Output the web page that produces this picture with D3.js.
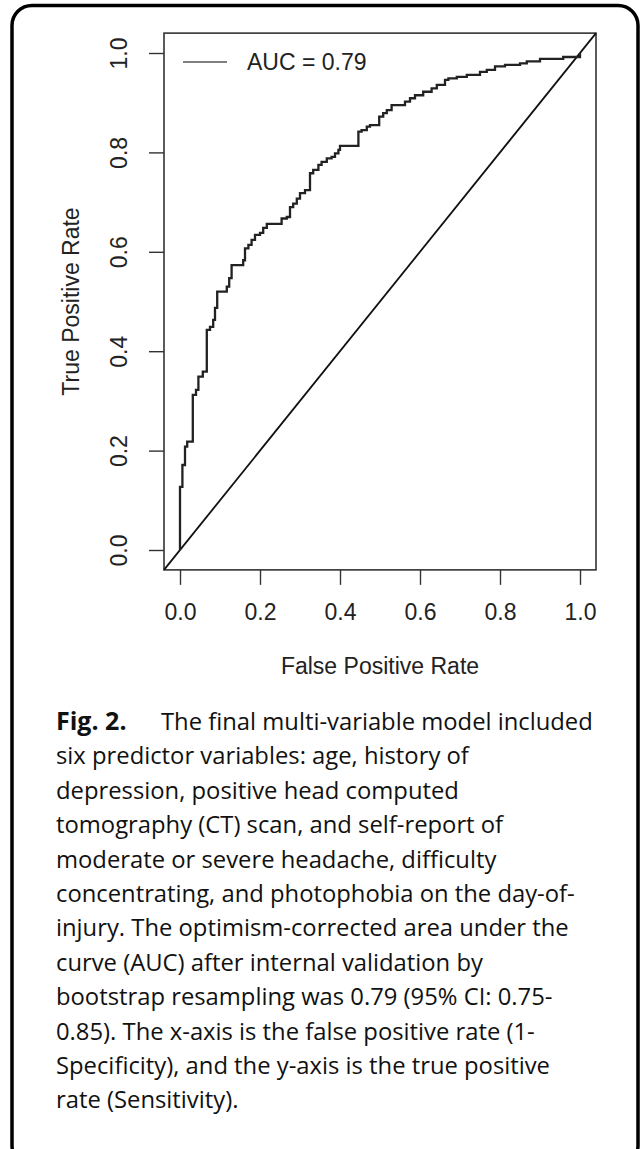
<!DOCTYPE html>
<html>
<head>
<meta charset="utf-8">
<script src="https://cdn.jsdelivr.net/npm/d3@7"></script>
<style>
  html, body { margin: 0; padding: 0; background: #fff; }
  svg { display: block; }
</style>
</head>
<body>
<svg class="js-render-chart" width="643" height="1149"></svg>
<script>
"use strict";

//data

const fpr = [0, 0, 0.006, 0.0125, 0.018, 0.032, 0.04, 0.046, 0.057, 0.067, 0.075, 0.083, 0.0875, 0.093,
  0.117, 0.123, 0.129, 0.158, 0.1625, 0.171, 0.179, 0.1875, 0.2, 0.208, 0.217, 0.254, 0.267, 0.275,
  0.283, 0.292, 0.3, 0.3125, 0.325, 0.333, 0.346, 0.354, 0.367, 0.379, 0.3875, 0.396, 0.4, 0.446,
  0.454, 0.467, 0.475, 0.498, 0.508, 0.517, 0.529, 0.5625, 0.575, 0.5875, 0.608, 0.629, 0.642,
  0.6625, 0.671, 0.692, 0.717, 0.75, 0.767, 0.7875, 0.8125, 0.85, 0.867, 0.9, 0.958, 1];

const tpr = [0, 0.127, 0.171, 0.208, 0.218, 0.312, 0.322, 0.349, 0.359, 0.443, 0.449, 0.463, 0.487, 0.52,
  0.53, 0.547, 0.573, 0.583, 0.607, 0.614, 0.624, 0.634, 0.638, 0.648, 0.656, 0.667, 0.67, 0.69,
  0.697, 0.707, 0.718, 0.724, 0.758, 0.765, 0.775, 0.781, 0.788, 0.791, 0.798, 0.805, 0.813, 0.842,
  0.845, 0.852, 0.855, 0.872, 0.879, 0.885, 0.895, 0.902, 0.909, 0.915, 0.922, 0.929, 0.936,
  0.946, 0.949, 0.952, 0.956, 0.962, 0.966, 0.973, 0.976, 0.979, 0.983, 0.988, 0.992, 1];

const xTicks = [0, 0.2, 0.4, 0.6, 0.8, 1.0];
const yTicks = [0, 0.2, 0.4, 0.6, 0.8, 1.0];

const xTitle = "False Positive Rate";
const yTitle = "True Positive Rate";
const legendLabel = "AUC = 0.79";

const captionLabel = "Fig. 2.";
const captionLines = [
  "The final multi-variable model included",
  "six predictor variables: age, history of",
  "depression, positive head computed",
  "tomography (CT) scan, and self-report of",
  "moderate or severe headache, difficulty",
  "concentrating, and photophobia on the day-of-",
  "injury. The optimism-corrected area under the",
  "curve (AUC) after internal validation by",
  "bootstrap resampling was 0.79 (95% CI: 0.75-",
  "0.85). The x-axis is the false positive rate (1-",
  "Specificity), and the y-axis is the true positive",
  "rate (Sensitivity)."
];

//layout

const chartFont = "'Liberation Sans', Arial, sans-serif";
const captionFont = "'Open Sans', 'Noto Sans', sans-serif";

const svg = d3.select(".js-render-chart");

const x = d3.scaleLinear().domain([0, 1]).range([180, 580]);
const y = d3.scaleLinear().domain([0, 1]).range([550, 53]);

//frame

svg.append("rect")
  .attr("x", 12)
  .attr("y", 5.5)
  .attr("width", 626)
  .attr("height", 1160)
  .attr("rx", 20)
  .attr("fill", "none")
  .attr("stroke", "#000")
  .attr("stroke-width", 3.5);

//plot box

const x0 = x(-0.04), x1 = x(1.04), y0 = y(-0.04), y1 = y(1.04);

svg.append("rect")
  .attr("x", x0)
  .attr("y", y1)
  .attr("width", x1 - x0)
  .attr("height", y0 - y1)
  .attr("fill", "none")
  .attr("stroke", "#333")
  .attr("stroke-width", 1.6);

//axes

const xa = d3.axisBottom(x)
  .tickValues(xTicks)
  .tickFormat(d3.format(".1f"))
  .tickSize(15)
  .tickPadding(19);

const ya = d3.axisLeft(y)
  .tickValues(yTicks)
  .tickFormat(d3.format(".1f"))
  .tickSize(15);

const gx = svg.append("g")
  .attr("transform", `translate(0, ${y0})`)
  .call(xa);

const gy = svg.append("g")
  .attr("transform", `translate(${x0}, 0)`)
  .call(ya);

[gx, gy].forEach((g) => {
  g.select(".domain").remove();
  g.selectAll(".tick line").attr("stroke", "#333").attr("stroke-width", 1.4);
  g.selectAll(".tick text")
    .attr("fill", "#222")
    .style("font-family", chartFont)
    .style("font-size", "23px");
});

gy.selectAll(".tick text")
  .attr("x", null)
  .attr("dy", "0.36em")
  .attr("text-anchor", "middle")
  .attr("transform", "translate(-45, 0) rotate(-90)");

//axis titles

svg.append("text")
  .attr("x", (x0 + x1) / 2)
  .attr("y", 666)
  .attr("dy", "0.36em")
  .attr("text-anchor", "middle")
  .attr("fill", "#222")
  .style("font-family", chartFont)
  .style("font-size", "23px")
  .text(xTitle);

svg.append("text")
  .attr("transform", `translate(71, ${(y0 + y1) / 2}) rotate(-90)`)
  .attr("dy", "0.36em")
  .attr("text-anchor", "middle")
  .attr("fill", "#222")
  .style("font-family", chartFont)
  .style("font-size", "23px")
  .text(yTitle);

//diagonal

svg.append("line")
  .attr("x1", x(-0.04))
  .attr("y1", y(-0.04))
  .attr("x2", x(1.04))
  .attr("y2", y(1.04))
  .attr("stroke", "#111")
  .attr("stroke-width", 1.8);

//roc curve

const roc = fpr.map((d, i) => [d, tpr[i]]);

svg.append("path")
  .datum(roc)
  .attr("fill", "none")
  .attr("stroke", "#222")
  .attr("stroke-width", 2.3)
  .attr("d", d3.line()
    .x((d) => x(d[0]))
    .y((d) => y(d[1]))
    .curve(d3.curveStepAfter));

//legend

svg.append("line")
  .attr("x1", 183)
  .attr("x2", 227)
  .attr("y1", 62)
  .attr("y2", 62)
  .attr("stroke", "#555")
  .attr("stroke-width", 1.5);

svg.append("text")
  .attr("x", 247)
  .attr("y", 62)
  .attr("dy", "0.36em")
  .attr("fill", "#222")
  .style("font-family", chartFont)
  .style("font-size", "23px")
  .text(legendLabel);

//caption

const caption = svg.append("g")
  .style("font-family", captionFont)
  .style("font-size", "23.8px")
  .attr("fill", "#111");

caption.append("text")
  .attr("x", 56)
  .attr("y", 730)
  .style("font-weight", "bold")
  .style("font-size", "25px")
  .text(captionLabel);

caption.selectAll(".c-line")
  .data(captionLines)
  .enter()
  .append("text")
  .attr("class", "c-line")
  .attr("x", (d, i) => i === 0 ? 161 : 56)
  .attr("y", (d, i) => 730 + i * 34.4)
  .text((d) => d);

</script>
</body>
</html>
